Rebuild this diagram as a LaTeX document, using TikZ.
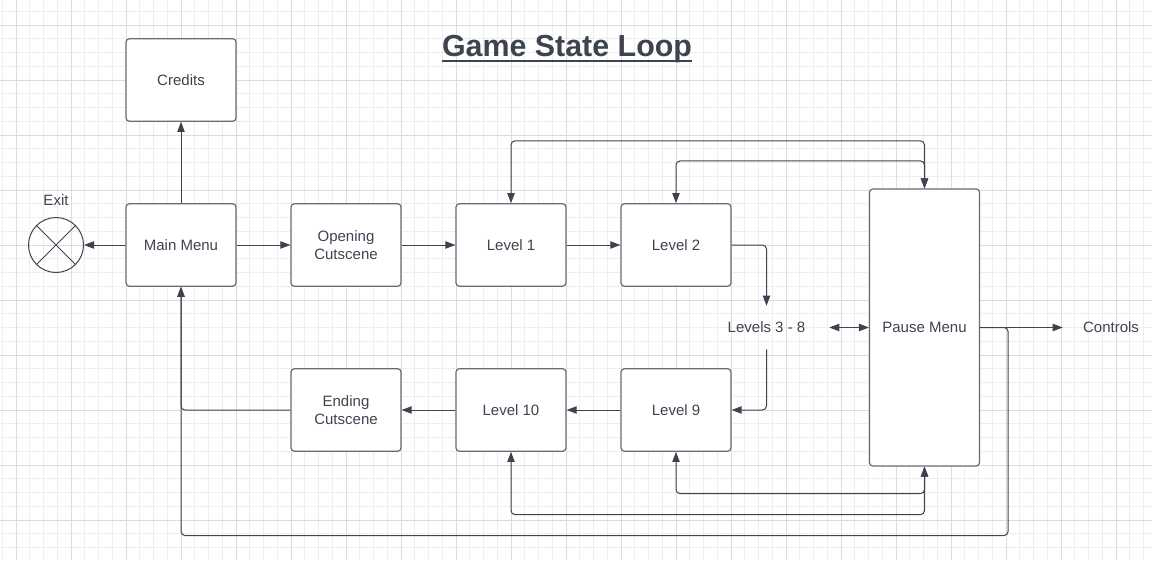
\documentclass[tikz,border=0pt]{standalone}
\usepackage{fontspec}
\setmainfont{Liberation Sans}
\usepackage{tikz}
\usetikzlibrary{arrows.meta, positioning, calc}
\definecolor{inkgray}{HTML}{3D434F}
\definecolor{boxgray}{HTML}{666B75}
\definecolor{gridminor}{HTML}{EEEEEE}
\definecolor{gridmajor}{HTML}{DCDCDC}

\begin{document}
\begin{tikzpicture}[x=0.75pt, y=-0.75pt,
  every node/.style={font=\fontsize{11.25}{13.5}\selectfont, text=inkgray},
  state/.style={draw=boxgray, line width=0.9pt, rounded corners=2.5pt, fill=white,
    minimum width=82.5pt, minimum height=61.9pt, align=center, inner sep=0pt},
  lbl/.style={inner sep=0pt},
  arr/.style={draw=inkgray, line width=0.75pt, rounded corners=3pt,
    -{Triangle[length=7.5pt, width=5.5pt]}},
  dblarr/.style={arr, {Triangle[length=7.5pt, width=5.5pt]}-{Triangle[length=7.5pt, width=5.5pt]}}]
  \useasboundingbox (0,0) rectangle (1152,560);
  \fill[white] (0,0) rectangle (1152,560);
  % background grid
  \foreach \i in {0,...,83} \draw[gridminor, line width=0.6pt] ({2.25+13.75*\i},0) -- ++(0,560);
  \foreach \i in {0,...,39} \draw[gridminor, line width=0.6pt] (0,{11.25+13.75*\i}) -- ++(1152,0);
  \foreach \i in {0,...,20} \draw[gridmajor, line width=0.6pt] ({16+55*\i},0) -- ++(0,560);
  \foreach \i in {0,...,9} \draw[gridmajor, line width=0.6pt] (0,{25+55*\i}) -- ++(1152,0);

  \node[font=\fontsize{22.8}{26}\selectfont\bfseries, inner sep=0pt, anchor=base] (title) at (567,57) {Game State Loop};
  \draw[inkgray, line width=1.9pt] ([yshift=-3pt]title.base west) -- ([yshift=-3pt]title.base east);

  \node[state] (credits) at (181,80) {Credits};
  \node[state] (main) at (181,245) {Main Menu};
  \node[state] (opening) at (346,245) {Opening\\Cutscene};
  \node[state] (lvl1) at (511,245) {Level 1};
  \node[state] (lvl2) at (676,245) {Level 2};
  \node[state, minimum height=207.75pt] (pause) at (924.5,327.5) {Pause Menu};
  \node[state] (ending) at (346,410) {Ending\\Cutscene};
  \node[state] (lvl10) at (511,410) {Level 10};
  \node[state] (lvl9) at (676,410) {Level 9};
  \node[lbl, minimum width=93.75pt, minimum height=32.25pt] (mid) at (766.5,327.5) {Levels 3 - 8};
  \node[lbl, minimum width=72pt] (controls) at (1111,327.5) {Controls};

  \node[draw=inkgray, circle, minimum size=41.25pt, inner sep=0pt, line width=0.75pt] (exit) at (56,245) {};
  \draw[inkgray, line width=0.6pt] (exit.north west) -- (exit.south east) (exit.north east) -- (exit.south west);
  \node (exitlbl) at (56,200) {Exit};

  \draw[arr] (main) -- (credits);
  \draw[arr] (main) -- (exit);
  \draw[arr] (main) -- (opening);
  \draw[arr] (opening) -- (lvl1);
  \draw[arr] (lvl1) -- (lvl2);
  \draw[arr] (lvl2.east) -| (mid.north);
  \draw[arr] (mid.south) |- (lvl9.east);
  \draw[arr] (lvl9) -- (lvl10);
  \draw[arr] (lvl10) -- (ending);
  \draw[arr] (ending.west) -| (main.south);
  \draw[dblarr] (mid.east) -- (pause.west);
  \draw[arr] (pause.east) -- (controls.west);
  \draw[arr] (pause.east) -- ++(28,0) -- ++(0,208) -| (main.south);

  \draw[dblarr] (pause.north) -- ++(0,-47.5) -| (lvl1.north);
  \draw[dblarr] (pause.north) -- ++(0,-27.5) -| (lvl2.north);
  \draw[dblarr] (pause.south) -- ++(0,27) -| (lvl9.south);
  \draw[dblarr] (pause.south) -- ++(0,48) -| (lvl10.south);
\end{tikzpicture}
\end{document}
